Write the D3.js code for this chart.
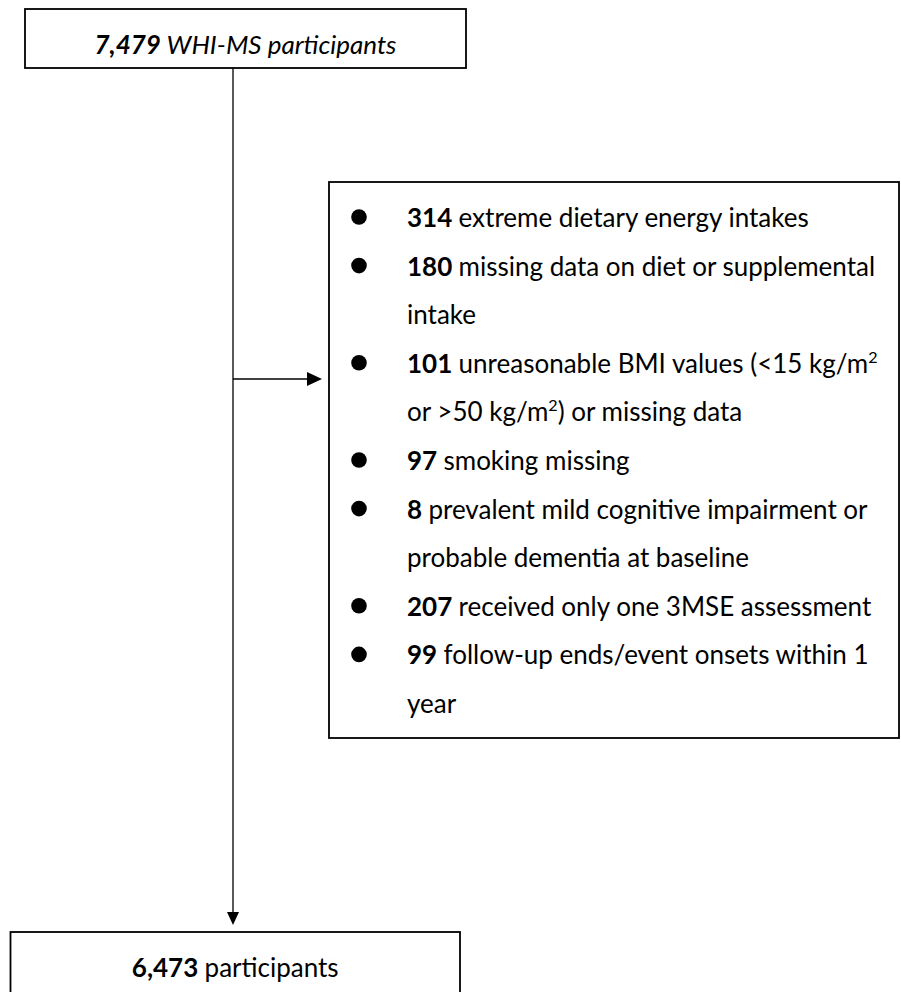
<!DOCTYPE html>
<html>
<head>
<meta charset="utf-8">
<script src="https://cdn.jsdelivr.net/npm/d3@7"></script>
<style>
  body { margin: 0; background: #fff; }
  text { font-family: Lato, "Noto Sans", sans-serif; fill: #000; }
</style>
</head>
<body>
<div id="main"></div>
<script>
// flow numbers
const startCount = "7,479";
const startLabel = "WHI-MS participants";
const finalCount = "6,473";
const finalLabel = "participants";

// exclusions: count + wrapped text lines ("^2" = superscript 2)
const excludedCounts = ["314", "180", "101", "97", "8", "207", "99"];
const excludedLines = [
  ["extreme dietary energy intakes"],
  ["missing data on diet or supplemental", "intake"],
  ["unreasonable BMI values (<15 kg/m^2", "or >50 kg/m^2) or missing data"],
  ["smoking missing"],
  ["prevalent mild cognitive impairment or", "probable dementia at baseline"],
  ["received only one 3MSE assessment"],
  ["follow-up ends/event onsets within 1", "year"]
];

class Flow {
  constructor(config) {
    this.config = config;
    this.svg = d3.select(config.div).append("svg")
      .attr("width", config.width)
      .attr("height", config.height);
    this.rows = [];
    excludedCounts.forEach((c, i) => {
      excludedLines[i].forEach((t, j) => {
        this.rows.push({ count: j === 0 ? c : null, text: t });
      });
    });
    this.yRow = d3.scaleLinear()
      .domain([0, this.rows.length - 1])
      .range([config.rowTop, config.rowTop + (this.rows.length - 1) * config.rowStep]);
  }

  box(x0, y0, x1, y1) {
    this.svg.append("rect")
      .attr("x", x0).attr("y", y0)
      .attr("width", x1 - x0).attr("height", y1 - y0)
      .attr("fill", "#fff").attr("stroke", "#000").attr("stroke-width", 1.8);
  }

  richText(g, x, y, bold, rest, italic, anchor) {
    const fs = this.config.fontSize;
    const t = g.append("text")
      .attr("x", x).attr("y", y)
      .attr("font-size", fs)
      .attr("text-anchor", anchor || "start")
      .attr("font-style", italic ? "italic" : "normal");
    if (bold) t.append("tspan").attr("font-weight", 700).text(bold + " ");
    let shift = 0;
    rest.split(/(\^2)/).forEach(part => {
      if (!part) return;
      if (part === "^2") {
        t.append("tspan").attr("font-size", fs * 0.62).attr("dy", -10).text("2");
        shift = 10;
      } else {
        const s = t.append("tspan").text(part);
        if (shift) { s.attr("dy", shift); shift = 0; }
      }
    });
    return t;
  }

  render() {
    const c = this.config;
    // connectors
    this.svg.append("line")
      .attr("x1", c.stemX).attr("x2", c.stemX)
      .attr("y1", c.top.y1).attr("y2", c.bottom.y0 - 20)
      .attr("stroke", "#000").attr("stroke-width", 1.3);
    this.svg.append("path")
      .attr("d", `M${c.stemX - 6},${c.bottom.y0 - 20}L${c.stemX + 6},${c.bottom.y0 - 20}L${c.stemX},${c.bottom.y0 - 7}Z`)
      .attr("fill", "#000");
    this.svg.append("line")
      .attr("x1", c.stemX).attr("x2", c.side.x0 - 21)
      .attr("y1", c.arrowY).attr("y2", c.arrowY)
      .attr("stroke", "#000").attr("stroke-width", 1.3);
    this.svg.append("path")
      .attr("d", `M${c.side.x0 - 22},${c.arrowY - 7}L${c.side.x0 - 22},${c.arrowY + 7}L${c.side.x0 - 7},${c.arrowY}Z`)
      .attr("fill", "#000");

    // boxes
    this.box(c.top.x0, c.top.y0, c.top.x1, c.top.y1);
    this.box(c.side.x0, c.side.y0, c.side.x1, c.side.y1);
    this.box(c.bottom.x0, c.bottom.y0, c.bottom.x1, c.bottom.y1);

    this.richText(this.svg, (c.top.x0 + c.top.x1) / 2, c.top.textY, startCount, startLabel, true, "middle");
    this.richText(this.svg, (c.bottom.x0 + c.bottom.x1) / 2, c.bottom.textY, finalCount, finalLabel, false, "middle");

    const g = this.svg.append("g");
    this.rows.forEach((r, i) => {
      const y = this.yRow(i);
      if (r.count !== null) {
        g.append("circle").attr("cx", c.bulletX).attr("cy", y - 10).attr("r", 7.8).attr("fill", "#000");
      }
      this.richText(g, c.textX, y, r.count, r.text, false);
    });
  }
}

const cfg = {
  div: "#main", width: 901, height: 992, fontSize: 26,
  top: { x0: 25, y0: 9, x1: 466, y1: 68, textY: 54 },
  side: { x0: 329, y0: 182, x1: 899, y1: 738 },
  bottom: { x0: 10.5, y0: 932, x1: 460, y1: 1000, textY: 977 },
  stemX: 233, arrowY: 379,
  bulletX: 359, textX: 407, rowTop: 227, rowStep: 48.6
};
const app = new Flow(cfg);
app.render();
</script>
</body>
</html>
